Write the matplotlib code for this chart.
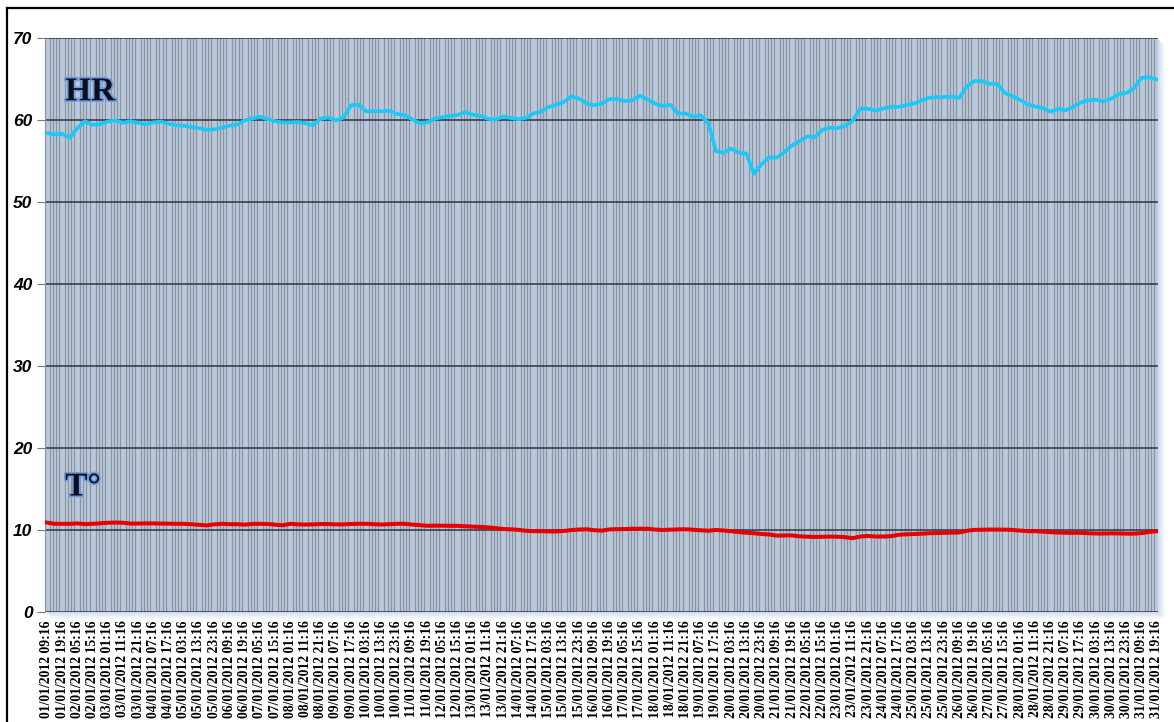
import matplotlib
matplotlib.use('Agg')
from matplotlib import pyplot as plt
from matplotlib.lines import Line2D
from matplotlib.patches import Rectangle
from matplotlib.ticker import MultipleLocator
import matplotlib.patheffects as pe
import numpy as np
from datetime import datetime, timedelta

# readings every 5 hours starting 01/01/2012 09:16
start = datetime(2012, 1, 1, 9, 16)
step_hours = 5

hr = [
    58.4, 58.25, 58.3, 57.85, 59.0, 59.85, 59.4, 59.5, 59.8, 59.95,
    59.65, 59.85, 59.65, 59.5, 59.7, 59.8, 59.55, 59.35, 59.3, 59.15,
    59.0, 58.8, 58.85, 59.05, 59.3, 59.4, 59.95, 60.15, 60.4, 60.1,
    59.85, 59.7, 59.7, 59.75, 59.6, 59.35, 60.15, 60.3, 59.95, 60.3,
    61.8, 61.9, 61.05, 61.1, 61.05, 61.15, 60.75, 60.6, 60.1, 59.6,
    59.7, 60.15, 60.35, 60.5, 60.6, 60.95, 60.65, 60.5, 60.15, 60.05,
    60.4, 60.25, 60.1, 60.25, 60.8, 61.0, 61.6, 61.85, 62.2, 62.9,
    62.6, 62.0, 61.8, 62.0, 62.55, 62.55, 62.3, 62.4, 62.95, 62.5,
    62.0, 61.7, 61.85, 60.8, 60.8, 60.4, 60.55, 59.6, 56.2, 56.0,
    56.5, 56.0, 55.9, 53.45, 54.6, 55.45, 55.4, 56.1, 56.9, 57.4,
    58.0, 57.9, 58.8, 59.05, 59.0, 59.3, 59.9, 61.4, 61.35, 61.15,
    61.4, 61.6, 61.6, 61.8, 62.0, 62.35, 62.7, 62.8, 62.8, 62.85,
    62.7, 64.1, 64.75, 64.75, 64.4, 64.4, 63.3, 62.9, 62.45, 61.9,
    61.65, 61.45, 61.0, 61.35, 61.2, 61.6, 62.15, 62.4, 62.45, 62.25,
    62.6, 63.15, 63.3, 63.9, 65.15, 65.2, 64.95,
]

temp = [
    10.9, 10.75, 10.75, 10.75, 10.8, 10.72, 10.75, 10.82, 10.88, 10.9,
    10.88, 10.78, 10.78, 10.8, 10.8, 10.78, 10.75, 10.75, 10.75, 10.7,
    10.63, 10.56, 10.68, 10.75, 10.7, 10.7, 10.65, 10.73, 10.75, 10.73,
    10.65, 10.57, 10.75, 10.68, 10.66, 10.68, 10.72, 10.72, 10.68, 10.68,
    10.73, 10.75, 10.75, 10.7, 10.66, 10.7, 10.75, 10.75, 10.66, 10.6,
    10.51, 10.53, 10.52, 10.5, 10.5, 10.45, 10.41, 10.37, 10.32, 10.22,
    10.12, 10.08, 10.02, 9.9, 9.85, 9.85, 9.82, 9.82, 9.88, 9.99,
    10.05, 10.08, 9.97, 9.92, 10.07, 10.1, 10.11, 10.15, 10.15, 10.15,
    10.05, 10.0, 10.04, 10.07, 10.09, 10.02, 9.96, 9.91, 10.0, 9.94,
    9.85, 9.76, 9.66, 9.6, 9.51, 9.45, 9.31, 9.33, 9.33, 9.22,
    9.18, 9.15, 9.17, 9.19, 9.18, 9.12, 9.0, 9.2, 9.27, 9.2,
    9.2, 9.24, 9.41, 9.47, 9.5, 9.54, 9.6, 9.63, 9.65, 9.67,
    9.7, 9.9, 10.01, 10.03, 10.05, 10.05, 10.04, 10.0, 9.92, 9.85,
    9.85, 9.8, 9.73, 9.69, 9.66, 9.65, 9.65, 9.6, 9.57, 9.57,
    9.59, 9.58, 9.55, 9.55, 9.62, 9.77, 9.85,
]

stamps = [start + timedelta(hours=step_hours * i) for i in range(len(hr))]
labels = [s.strftime('%d/%m/%Y %H:%M') for s in stamps]
x = np.arange(len(hr))

fig = plt.figure(figsize=(11.74, 7.22), dpi=100)
pos = [0.0383, 0.1524, 0.948, 0.795]

# soft shadow right and below the plot area
for off, col in [(6, '#eef3fa'), (4, '#e2eaf5'), (2, '#d3dff0')]:
    fig.add_artist(Rectangle((pos[0] + off / 1174, pos[1] - off / 722), pos[2], pos[3],
                             transform=fig.transFigure, facecolor=col, edgecolor='none', zorder=0))

ax = fig.add_axes(pos)

# striped plot background: light blue with a thin grey line every two hours
ax.set_facecolor('#b9c9dd')
ax.xaxis.set_minor_locator(MultipleLocator(2 / step_hours))
ax.grid(which='minor', axis='x', color='#8c939c', linewidth=0.9)
ax.grid(which='major', axis='y', color='#2e3540', linewidth=1.1)
ax.set_axisbelow(True)

ax.plot(x, hr, color='#1cc9f6', linewidth=2.7, solid_joinstyle='round', zorder=3)
ax.plot(x, temp, color='#e60000', linewidth=2.9, solid_joinstyle='round', zorder=3)

ax.set_xlim(-0.26, len(hr) - 1 + 0.13)
ax.set_ylim(0, 70)
ax.set_yticks(range(0, 71, 10))
ax.set_xticks(x[::2])
ax.set_xticklabels(labels[::2], rotation=90, fontsize=9.8,
                   family='Liberation Serif', fontweight='bold')
for t in ax.get_yticklabels():
    t.set_family('Liberation Sans')
    t.set_fontweight('bold')
    t.set_fontstyle('italic')
    t.set_fontsize(12.5)
ax.tick_params(axis='x', which='both', length=0, pad=6)
ax.tick_params(axis='y', length=6, width=0.8, color='#777777', pad=3)

for side in ['top', 'right', 'bottom']:
    ax.spines[side].set_visible(False)
ax.spines['left'].set_color('#8f8f8f')

glow = [pe.withStroke(linewidth=2.5, foreground='#6f9be0')]
ax.text(2.4, 62.4, 'HR', fontsize=24, family='Liberation Serif', fontweight='bold',
        color='#0a0f1e', va='baseline', path_effects=glow, zorder=4)
ax.text(2.4, 14.2, 'T°', fontsize=24, family='Liberation Serif', fontweight='bold',
        color='#0a0f1e', va='baseline', path_effects=glow, zorder=4)

# page frame on the top and left edges
fig.add_artist(Line2D([7 / 1174, 1.0], [1 - 8 / 722, 1 - 8 / 722], color='black', linewidth=1.6))
fig.add_artist(Line2D([7 / 1174, 7 / 1174], [0.0, 1 - 8 / 722], color='black', linewidth=1.6))

fig.savefig('out.png', dpi=100)
